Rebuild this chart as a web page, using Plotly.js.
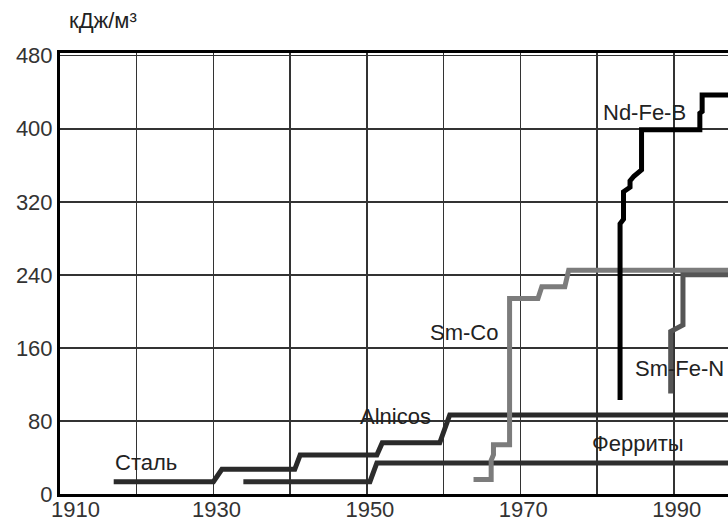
<!DOCTYPE html>
<html>
<head>
<meta charset="utf-8">
<script src="https://cdn.plot.ly/plotly-3.0.1.min.js"></script>
<style>html,body{margin:0;padding:0;background:#fff;}#chart{width:728px;height:521px;}</style>
</head>
<body>
<div id="chart"></div>
<script>
// Data (years, energy product kJ/m3)
const steelYears   = [1917, 1930.0, 1931.1, 1940.6, 1941.3, 1951.3, 1952.0, 1959.5, 1960.8, 1998];
const steelValues  = [13.5, 13.5, 27, 27, 42.7, 42.7, 56, 56, 86.5, 86.5];
const ferriteYears  = [1933.9, 1950.4, 1951.3, 1998];
const ferriteValues = [13.5, 13.5, 34, 34];
const smcoYears  = [1963.9, 1966.2, 1966.2, 1966.5, 1966.5, 1968.6, 1968.6, 1972.3, 1972.8, 1975.8, 1976.3, 1998];
const smcoValues = [16, 16, 37, 43, 54, 54, 214, 214, 227, 227, 245, 245];
const ndfebYears  = [1983.0, 1983.0, 1983.45, 1983.45, 1984.3, 1984.3, 1984.8, 1985.8, 1985.8, 1993.4, 1993.4, 1993.7, 1993.7, 1998];
const ndfebValues = [103, 296, 301, 331, 336, 343, 348, 355, 399, 399, 417, 419, 437, 437];
const smfenYears  = [1989.6, 1989.6, 1991.2, 1991.2, 1998];
const smfenValues = [110, 178, 185, 240, 240];

const xTickVals = [1910, 1920, 1930, 1940, 1950, 1960, 1970, 1980, 1990];
const xTickText = ['', '', '1930', '', '1950', '', '1970', '', '1990'];
const firstYearLabel = '1910';
const yTickVals = [0, 80, 160, 240, 320, 400, 480];

const unitLabel = 'кДж/м³';
const seriesLabels = ['Сталь', 'Alnicos', 'Sm-Co', 'Nd-Fe-B', 'Sm-Fe-N', 'Ферриты'];
const labelYears  = [1921.2, 1953.75, 1962.6, 1986.25, 1990.7, 1985.3];
const labelValues = [34, 85.4, 177.4, 417.3, 138, 54.8];

const FONT = 'Liberation Sans, Arial, sans-serif';

function line(x, y, color, name) {
  return {x: x, y: y, mode: 'lines', type: 'scatter', name: name,
          line: {color: color, width: 5, shape: 'linear'}, hoverinfo: 'skip'};
}

const traces = [
  line(ferriteYears, ferriteValues, '#2e2e2e', 'Ферриты'),
  line(steelYears, steelValues, '#2a2a2a', 'Сталь / Alnicos'),
  line(smcoYears, smcoValues, '#7c7c7c', 'Sm-Co'),
  line(smfenYears, smfenValues, '#555555', 'Sm-Fe-N'),
  line(ndfebYears, ndfebValues, '#000000', 'Nd-Fe-B')
];

const annotations = seriesLabels.map((t, i) => ({
  x: labelYears[i], y: labelValues[i], xref: 'x', yref: 'y', text: t,
  showarrow: false, xanchor: 'center', yanchor: 'middle',
  font: {family: FONT, size: 22, color: '#222'}
}));
annotations.push({
  x: 0.01, y: 1.0726, xref: 'paper', yref: 'paper', text: unitLabel,
  showarrow: false, xanchor: 'left', yanchor: 'middle',
  font: {family: FONT, size: 22, color: '#222'}
});
// first x tick label, shifted right as in the reference
annotations.push({
  x: xTickVals[0], y: 0, xref: 'x', yref: 'paper', text: firstYearLabel,
  showarrow: false, xanchor: 'center', yanchor: 'top', xshift: 15, yshift: -1,
  font: {family: FONT, size: 22, color: '#333'}
});

const layout = {
  width: 728, height: 521,
  margin: {l: 60, r: 0, t: 53, b: 27, pad: 0},
  paper_bgcolor: '#fff', plot_bgcolor: '#fff',
  showlegend: false,
  font: {family: FONT, size: 22, color: '#333'},
  xaxis: {
    range: [1910, 1997.07], tickvals: xTickVals, ticktext: xTickText,
    showgrid: true, gridcolor: '#333', gridwidth: 1.5,
    showline: true, linecolor: '#000', linewidth: 3, mirror: true,
    ticks: '', zeroline: false, fixedrange: true,
    ticklabelstandoff: -6, ticklabelshift: 3,
    tickfont: {family: FONT, size: 22, color: '#333'}
  },
  yaxis: {
    range: [0, 483], tickvals: yTickVals,
    showgrid: true, gridcolor: '#333', gridwidth: 1.5,
    showline: true, linecolor: '#000', linewidth: 3, mirror: false,
    ticks: '', zeroline: false, fixedrange: true,
    tickfont: {family: FONT, size: 22, color: '#333'}
  },
  annotations: annotations
};

Plotly.newPlot('chart', traces, layout, {staticPlot: true, displayModeBar: false});
</script>
</body>
</html>
